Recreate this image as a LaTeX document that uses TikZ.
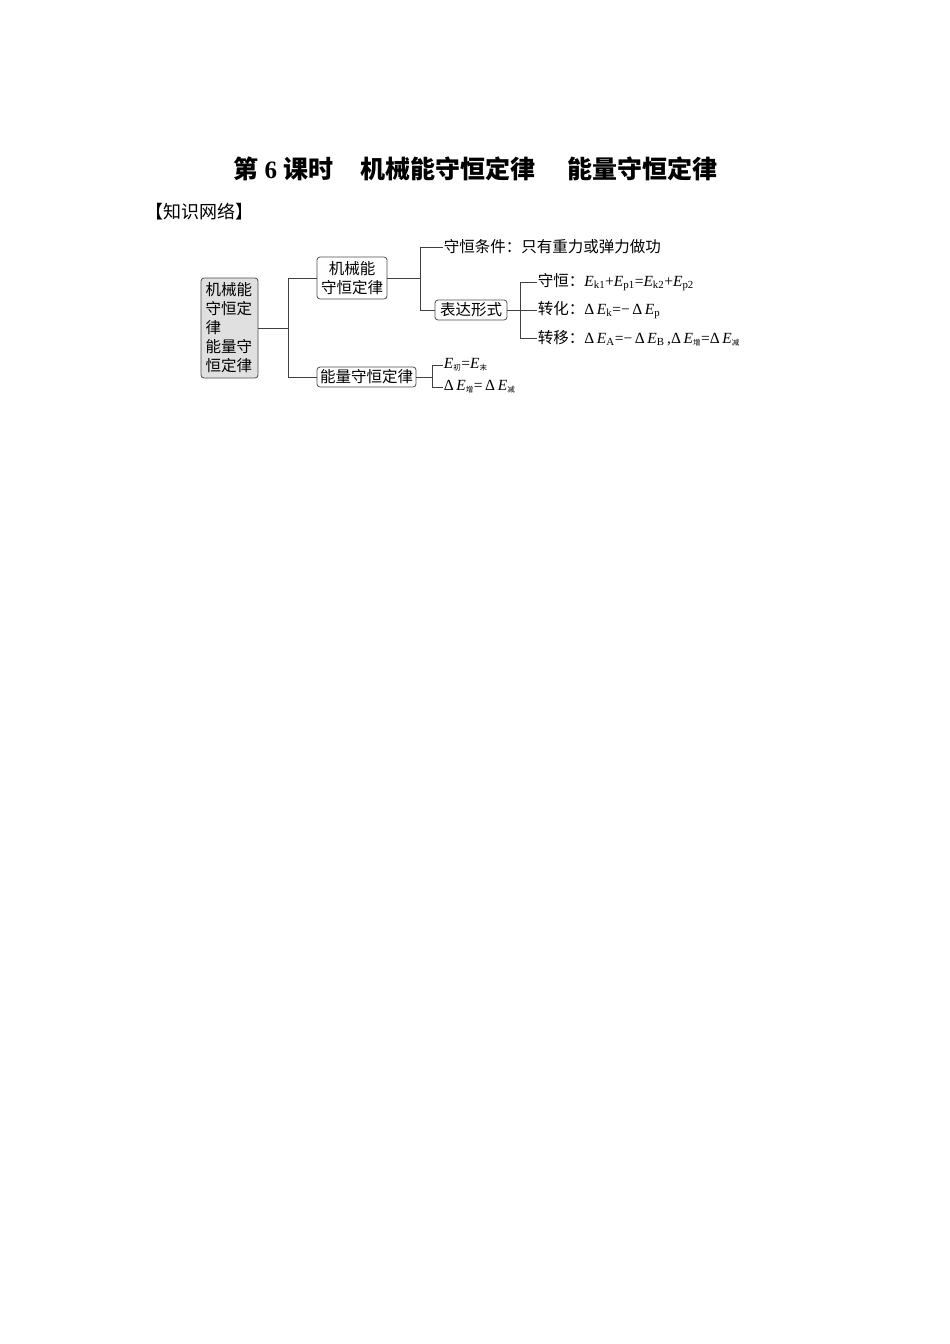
\documentclass[tikz,border=0pt]{standalone}
\usepackage{fontspec}
\setmainfont{Liberation Serif}
\newfontfamily\cjk{Noto Sans CJK SC}
\usetikzlibrary{positioning}
\newcommand{\Ev}[1]{\textit{E}\textsubscript{#1}}
\newcommand{\Ec}[1]{\textit{E}\textsubscript{\cjk\fontsize{7.5}{7.5}\selectfont #1}}

\begin{document}
\begin{tikzpicture}[x=1pt,y=-1pt,line width=0.8pt]
		\tikzset{box/.style={draw=black!70, rounded corners=3pt, inner sep=0pt, align=center, font=\fontsize{15.5}{19}\selectfont\cjk},
			leaf/.style={inner sep=0.5pt, anchor=west, font=\fontsize{15.5}{19}\selectfont},
			link/.style={draw=black!75, line width=0.8pt}}
		\useasboundingbox (0,0) rectangle (950,1344);
		% title
		\node [anchor=west, inner sep=0pt, font=\fontsize{25}{25}\selectfont\bfseries] (t1) at (233,169) {{\cjk 第} 6 {\cjk 课时}};
		\node [anchor=west, inner sep=0pt, font=\fontsize{25}{25}\selectfont\bfseries\cjk] (t2) at (360,169) {机械能守恒定律};
		\node [anchor=west, inner sep=0pt, font=\fontsize{25}{25}\selectfont\bfseries\cjk] (t3) at (567,169) {能量守恒定律};
		\node [anchor=west, inner sep=0pt, font=\fontsize{18}{18}\selectfont\cjk] (net) at (145,212) {【知识网络】};
		% boxes
		\node [box, fill=black!12, align=left, text width=48pt, inner xsep=4.5pt, minimum height=100pt] (root) at (229.5,328) {机械能\\守恒定\\律\\能量守\\恒定律};
		\node [box, minimum width=70pt, minimum height=42pt] (mech) at (352,278) {机械能\\守恒定律};
		\node [box, minimum width=99pt, minimum height=20pt] (energy) at (366.5,377) {能量守恒定律};
		\node [box, minimum width=72pt, minimum height=20pt] (form) at (471,310) {表达形式};
		% leaves
		\node [leaf] (cond) at (443,247) {\cjk 守恒条件：只有重力或弹力做功};
		\node [leaf] (keep) at (537,282) {{\cjk 守恒：}\Ev{k1}+\Ev{p1}=\Ev{k2}+\Ev{p2}};
		\node [leaf] (conv) at (537,310) {{\cjk 转化：}Δ\,\Ev{k}=−\,Δ\,\Ev{p}};
		\node [leaf] (move) at (537,338) {{\cjk 转移：}Δ\,\Ev{A}=−\,Δ\,\Ev{B}\,,Δ\,\Ec{增}=Δ\,\Ec{减}};
		\node [leaf] (ea) at (443,365) {\Ec{初}=\Ec{末}};
		\node [leaf] (eb) at (443,387) {Δ\,\Ec{增}=\,Δ\,\Ec{减}};
		% joints
		\coordinate (j1) at (288,328);
		\coordinate (j2) at (420,278);
		\coordinate (j3) at (520,310);
		\coordinate (j4) at (432,377);
		% connectors
		\draw [link] (root.east) -- (j1) |- (mech.west);
		\draw [link] (j1) |- (energy.west);
		\draw [link] (mech.east) -- (j2) |- (cond.west);
		\draw [link] (j2) |- (form.west);
		\draw [link] (form.east) -- (j3) |- (keep.west);
		\draw [link] (j3) -- (conv.west);
		\draw [link] (j3) |- (move.west);
		\draw [link] (energy.east) -- (j4) |- (ea.west);
		\draw [link] (j4) |- (eb.west);
\end{tikzpicture}
\end{document}
